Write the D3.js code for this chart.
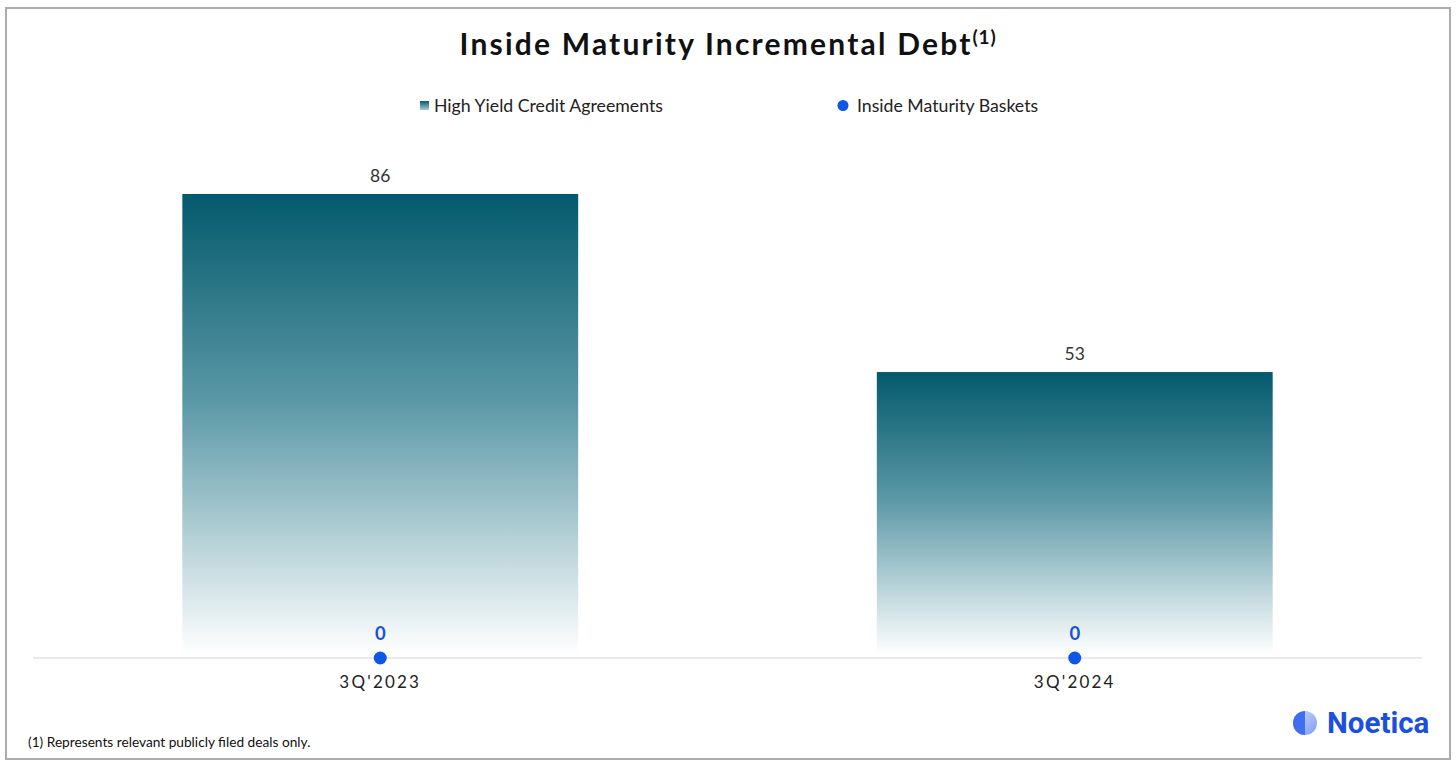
<!DOCTYPE html>
<html><head><meta charset="utf-8">
<script src="https://cdn.jsdelivr.net/npm/d3@7/dist/d3.min.js"></script>
<style>html,body{margin:0;padding:0;background:#fff;}svg{display:block;}</style>
</head><body>
<script>
const categories = ["3Q'2023", "3Q'2024"];
const highYieldValues = [86, 53];
const insideMaturityValues = [0, 0];
const seriesNames = ["High Yield Credit Agreements", "Inside Maturity Baskets"];
const titleText = "Inside Maturity Incremental Debt";
const footnote = "(1) Represents relevant publicly filed deals only.";

const W = 1456, H = 768;
const font = "Lato, 'Open Sans', sans-serif";
const svg = d3.select("body").append("svg").attr("width", W).attr("height", H);

const defs = svg.append("defs");
const grad = defs.append("linearGradient").attr("id", "barGrad").attr("x1", 0).attr("y1", 0).attr("x2", 0).attr("y2", 1);
grad.append("stop").attr("offset", "0%").attr("stop-color", "#035a6c");
grad.append("stop").attr("offset", "45%").attr("stop-color", "#5b98a6");
grad.append("stop").attr("offset", "100%").attr("stop-color", "#ffffff");
const legGrad = defs.append("linearGradient").attr("id", "legGrad").attr("x1", 0).attr("y1", 0).attr("x2", 0).attr("y2", 1);
legGrad.append("stop").attr("offset", "0%").attr("stop-color", "#035a6c");
legGrad.append("stop").attr("offset", "100%").attr("stop-color", "#a9cbd3");
const logoGrad = defs.append("linearGradient").attr("id", "logoGrad").attr("x1", 0).attr("y1", 0).attr("x2", 1).attr("y2", 1);
logoGrad.append("stop").attr("offset", "0%").attr("stop-color", "#cfd9fb");
logoGrad.append("stop").attr("offset", "100%").attr("stop-color", "#7d9cf2");

// frame
svg.append("rect").attr("x", 6).attr("y", 8).attr("width", 1444).attr("height", 751)
  .attr("fill", "#fff").attr("stroke", "#acacac").attr("stroke-width", 2);

// title
const title = svg.append("text").attr("x", 728).attr("y", 55).attr("text-anchor", "middle")
  .attr("font-family", font).attr("font-weight", "bold").attr("font-size", 30)
  .attr("letter-spacing", 2.2).attr("fill", "#111");
title.append("tspan").text(titleText);
title.append("tspan").attr("dy", -11).attr("font-size", 19).attr("letter-spacing", 0.8).text("(1)");

// scales
const x = d3.scaleBand().domain(categories).range([33, 1422]).paddingInner(0.43).paddingOuter(0.215);
const y = d3.scaleLinear().domain([0, 86]).range([658, 194]);

// bars
svg.append("g").selectAll("rect").data(categories).join("rect")
  .attr("x", d => x(d)).attr("width", x.bandwidth())
  .attr("y", (d, i) => y(highYieldValues[i]))
  .attr("height", (d, i) => y(0) - y(highYieldValues[i]) - 4)
  .attr("fill", "url(#barGrad)");

// axis
const xAxis = svg.append("g").attr("transform", `translate(0,${y(0)})`)
  .call(d3.axisBottom(x).tickSize(0).tickPadding(18));
xAxis.select(".domain").attr("stroke", "#d4d4d4").attr("stroke-width", 1.2)
  .attr("d", "M33,0H1422");
xAxis.selectAll("text").attr("font-family", font).attr("font-size", 17)
  .attr("letter-spacing", 2.2).attr("fill", "#222");

// bar labels
svg.append("g").selectAll("text").data(categories).join("text")
  .attr("x", d => x(d) + x.bandwidth() / 2)
  .attr("y", (d, i) => y(highYieldValues[i]) - 12)
  .attr("text-anchor", "middle").attr("font-family", font).attr("font-size", 17.5)
  .attr("fill", "#333").text((d, i) => highYieldValues[i]);

// dots
svg.append("g").selectAll("circle").data(categories).join("circle")
  .attr("cx", d => x(d) + x.bandwidth() / 2)
  .attr("cy", (d, i) => y(insideMaturityValues[i]))
  .attr("r", 6.5).attr("fill", "#0f55e6");
svg.append("g").selectAll("text").data(categories).join("text")
  .attr("x", d => x(d) + x.bandwidth() / 2)
  .attr("y", (d, i) => y(insideMaturityValues[i]) - 18)
  .attr("text-anchor", "middle").attr("font-family", font).attr("font-size", 18.5)
  .attr("font-weight", "bold").attr("fill", "#1a52d6").text((d, i) => insideMaturityValues[i]);

// legend
const lg = svg.append("g").attr("font-family", font).attr("font-size", 17.7).attr("fill", "#222");
lg.append("rect").attr("x", 420).attr("y", 101).attr("width", 9).attr("height", 9).attr("fill", "url(#legGrad)");
lg.append("text").attr("x", 434).attr("y", 111.5).attr("fill", "#222").text(seriesNames[0]);
lg.append("circle").attr("cx", 843).attr("cy", 105.5).attr("r", 5.5).attr("fill", "#0f55e6");
lg.append("text").attr("x", 857).attr("y", 111.5).attr("fill", "#222").text(seriesNames[1]);

// footnote
svg.append("text").attr("x", 28).attr("y", 747).attr("font-family", font).attr("font-size", 13.7)
  .attr("fill", "#111").text(footnote);

// logo
const logo = svg.append("g");
logo.append("circle").attr("cx", 1305).attr("cy", 723).attr("r", 12).attr("fill", "url(#logoGrad)");
logo.append("path").attr("d", "M1305,711 A12,12 0 0,0 1305,735 Z").attr("fill", "#3f6ef0");
logo.append("text").attr("x", 1327).attr("y", 733).attr("font-family", "Roboto, 'Liberation Sans', sans-serif")
  .attr("font-weight", "bold").attr("font-size", 29.5).attr("fill", "#1a4fe0").text("Noetica");
</script>
</body></html>
